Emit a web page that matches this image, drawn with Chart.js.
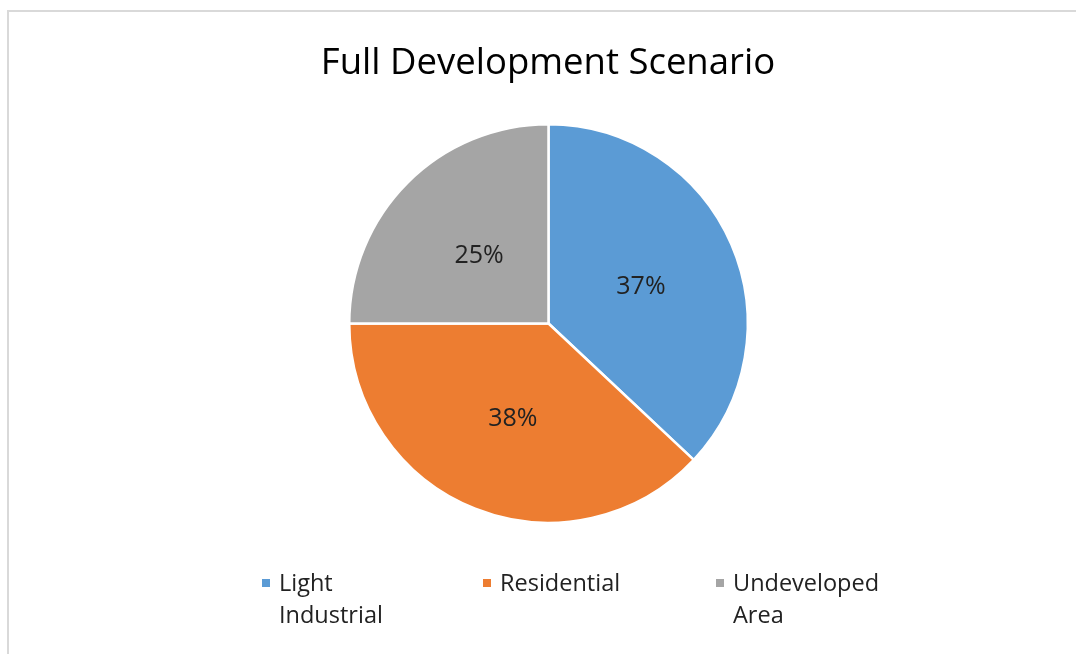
<!DOCTYPE html>
<html>
<head>
<meta charset="utf-8">
<script src="https://cdn.jsdelivr.net/npm/chart.js@4.4.1/dist/chart.umd.min.js"></script>
<style>
  html, body { margin: 0; padding: 0; background: #fff; }
  #wrap { position: relative; width: 1076px; height: 654px; }
</style>
</head>
<body>
<div id="wrap"><canvas id="pieChart" width="1076" height="654"></canvas></div>
<script>
// Datos del grafico
const chartTitle = "Full Development Scenario";
const categories = ["Light Industrial", "Residential", "Undeveloped Area"];
const legendLines = [["Light", "Industrial"], ["Residential"], ["Undeveloped", "Area"]];
const shares = [37, 38, 25];
const colors = ["#5B9BD5", "#ED7D31", "#A5A5A5"];

const FONT = "'Open Sans', sans-serif";

// Marco, titulo, etiquetas y leyenda dibujados a mano
const decorPlugin = {
  id: "decor",
  beforeDraw(chart) {
    const ctx = chart.ctx;
    ctx.save();
    ctx.fillStyle = "#d9d9d9";
    ctx.fillRect(7, 10, chart.width - 7, 2);
    ctx.fillRect(7, 10, 2, chart.height - 10);
    ctx.restore();
  },
  afterDraw(chart) {
    const ctx = chart.ctx;
    ctx.save();
    // titulo
    ctx.fillStyle = "#000";
    ctx.font = "36.5px " + FONT;
    ctx.textAlign = "center";
    ctx.textBaseline = "middle";
    ctx.fillText(chartTitle, 548, 64);

    // porcentajes en el centro de cada porcion
    ctx.font = "25px " + FONT;
    ctx.fillStyle = "#222";
    const meta = chart.getDatasetMeta(0);
    meta.data.forEach((arc, i) => {
      const mid = (arc.startAngle + arc.endAngle) / 2;
      const r = arc.outerRadius / 2;
      ctx.fillText(shares[i] + "%", arc.x + Math.cos(mid) * r + 1, arc.y + Math.sin(mid) * r + 3);
    });

    // leyenda
    const legendX = [262, 483, 716];
    ctx.font = "23.5px " + FONT;
    ctx.textAlign = "left";
    legendLines.forEach((lines, i) => {
      ctx.fillStyle = colors[i];
      ctx.fillRect(legendX[i], 579, 8, 8);
      ctx.fillStyle = "#222";
      lines.forEach((txt, j) => {
        ctx.fillText(txt, legendX[i] + 17, 584 + j * 32);
      });
    });
    ctx.restore();
  }
};

const ctx = document.getElementById("pieChart").getContext("2d");
const pieChart = new Chart(ctx, {
  type: "pie",
  data: {
    labels: categories,
    datasets: [{
      data: shares,
      backgroundColor: colors,
      borderColor: "#fff",
      borderWidth: 2.5
    }]
  },
  options: {
    responsive: false,
    animation: false,
    layout: { padding: { top: 122, bottom: 129, left: 348, right: 327 } },
    plugins: {
      legend: { display: false },
      title: { display: false },
      tooltip: { enabled: false }
    }
  },
  plugins: [decorPlugin]
});
</script>
</body>
</html>
